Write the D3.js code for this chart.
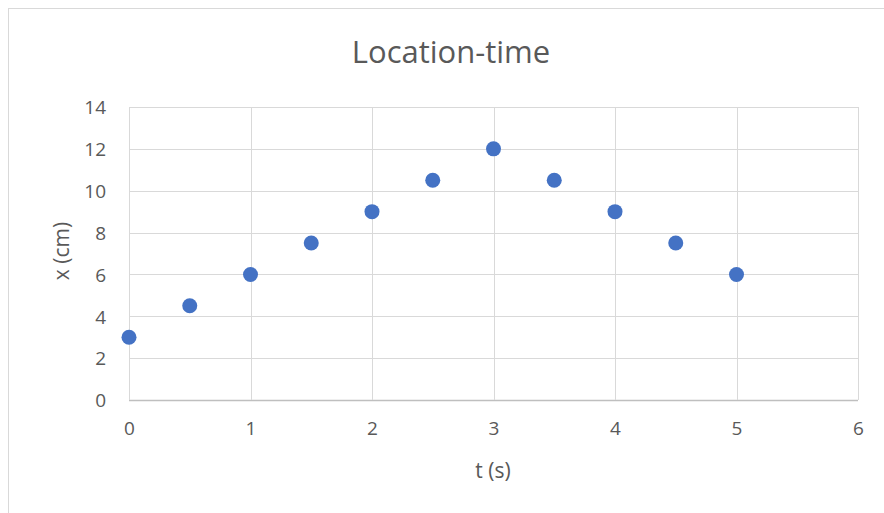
<!DOCTYPE html>
<html>
<head>
<meta charset="utf-8">
<script src="https://cdn.jsdelivr.net/npm/d3@7"></script>
<style>
  body { margin: 0; background: #fff; }
  svg text { font-family: "Open Sans", "Liberation Sans", sans-serif; fill: #595959; }
</style>
</head>
<body>
<div id="chart"></div>
<script>
// data
const times = [0, 0.5, 1, 1.5, 2, 2.5, 3, 3.5, 4, 4.5, 5];
const positions = [3, 4.5, 6, 7.5, 9, 10.5, 12, 10.5, 9, 7.5, 6];
const xTicks = [0, 1, 2, 3, 4, 5, 6];
const yTicks = [0, 2, 4, 6, 8, 10, 12, 14];

const width = 884;
const height = 513;
const plot = { left: 129, right: 858, top: 107, bottom: 400 };

const svg = d3.select("#chart").append("svg")
  .attr("width", width)
  .attr("height", height);

// outer chart border
svg.append("rect")
  .attr("x", 8.5).attr("y", 8.5)
  .attr("width", 900).attr("height", 520)
  .attr("fill", "#fff")
  .attr("stroke", "#d9d9d9");

const x = d3.scaleLinear().domain([0, 6]).range([plot.left, plot.right]);
const y = d3.scaleLinear().domain([0, 14]).range([plot.bottom, plot.top]);

// gridlines
svg.append("g")
  .selectAll("line")
  .data(yTicks)
  .enter().append("line")
  .attr("x1", plot.left).attr("x2", plot.right)
  .attr("y1", (d) => Math.round(y(d)) + 0.5)
  .attr("y2", (d) => Math.round(y(d)) + 0.5)
  .attr("stroke", (d) => (d === 0 ? "#bfbfbf" : "#d9d9d9"))
  .attr("stroke-width", (d) => (d === 0 ? 1.5 : 1));

svg.append("g")
  .selectAll("line")
  .data(xTicks)
  .enter().append("line")
  .attr("y1", plot.top).attr("y2", plot.bottom)
  .attr("x1", (d) => Math.round(x(d)) + 0.5)
  .attr("x2", (d) => Math.round(x(d)) + 0.5)
  .attr("stroke", "#d9d9d9")
  .attr("stroke-width", 1);

// tick labels via axes (no lines)
const xAxis = svg.append("g")
  .attr("transform", `translate(0,${plot.bottom})`)
  .call(d3.axisBottom(x).tickValues(xTicks).tickFormat(d3.format("d")).tickSize(0).tickPadding(22));
const yAxis = svg.append("g")
  .attr("transform", `translate(${plot.left},0)`)
  .call(d3.axisLeft(y).tickValues(yTicks).tickFormat(d3.format("d")).tickSize(0).tickPadding(23));

[xAxis, yAxis].forEach((g) => {
  g.attr("font-size", null).attr("font-family", null);
  g.select(".domain").remove();
  g.selectAll("text")
    .style("font-size", "19px")
    .style("fill", "#595959");
});
yAxis.selectAll("text").attr("dy", "0.36em");

// markers
svg.append("g")
  .selectAll("circle")
  .data(times)
  .enter().append("circle")
  .attr("cx", (d) => x(d))
  .attr("cy", (d, i) => y(positions[i]))
  .attr("r", 7.5)
  .attr("fill", "#4472c4");

// title
svg.append("text")
  .attr("x", 451).attr("y", 63)
  .attr("text-anchor", "middle")
  .style("font-size", "31px")
  .text("Location-time");

// axis titles
svg.append("text")
  .attr("x", 493).attr("y", 478)
  .attr("text-anchor", "middle")
  .style("font-size", "21px")
  .text("t (s)");

svg.append("text")
  .attr("transform", "translate(69,251) rotate(-90)")
  .attr("text-anchor", "middle")
  .style("font-size", "21px")
  .text("x (cm)");
</script>
</body>
</html>
